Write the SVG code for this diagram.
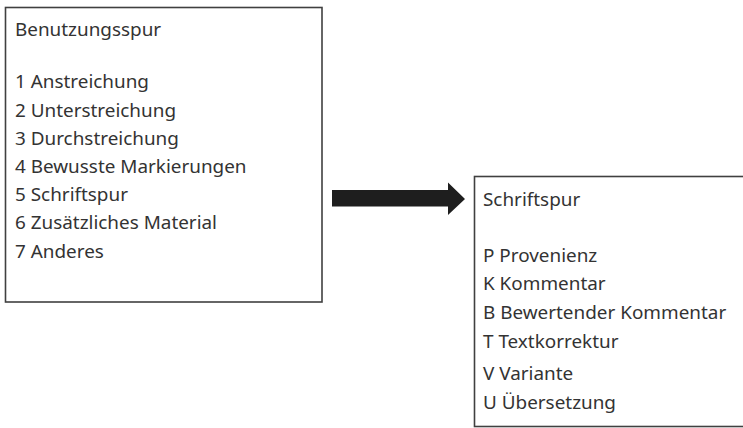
<svg xmlns="http://www.w3.org/2000/svg" width="743" height="428" viewBox="0 0 743 428">
<style>
.box{fill:#fff;stroke:#404040;stroke-width:1.6}
.t{font-family:"Noto Sans","Open Sans","Liberation Sans",sans-serif;font-size:18.9px;fill:#333}
.arrow{fill:#1e1e1e}
</style>
<rect width="743" height="428" fill="#fff"/>
<g id="benutzungsspur">
<rect class="box" x="5.5" y="7.5" width="316.5" height="294.5"/>
<text class="t" x="15" y="36.3">Benutzungsspur</text>
<text class="t" x="15" y="88.3">1 Anstreichung</text>
<text class="t" x="15" y="116.5">2 Unterstreichung</text>
<text class="t" x="15" y="144.7">3 Durchstreichung</text>
<text class="t" x="15" y="172.9">4 Bewusste Markierungen</text>
<text class="t" x="15" y="201.1">5 Schriftspur</text>
<text class="t" x="15" y="229.3">6 Zusätzliches Material</text>
<text class="t" x="15" y="257.5">7 Anderes</text>
</g>
<g id="connectors">
<polygon class="arrow" points="332,190 448,190 448,182.5 465,199 448,215 448,206.5 332,206.5"/>
</g>
<g id="schriftspur">
<rect class="box" x="474.5" y="176.5" width="280" height="250"/>
<text class="t" x="483" y="205.8">Schriftspur</text>
<text class="t" x="483" y="261.5">P Provenienz</text>
<text class="t" x="483" y="290.3">K Kommentar</text>
<text class="t" x="483" y="319.1">B Bewertender Kommentar</text>
<text class="t" x="483" y="348.1">T Textkorrektur</text>
<text class="t" x="483" y="379.8">V Variante</text>
<text class="t" x="483" y="409.1">U Übersetzung</text>
</g>
</svg>
